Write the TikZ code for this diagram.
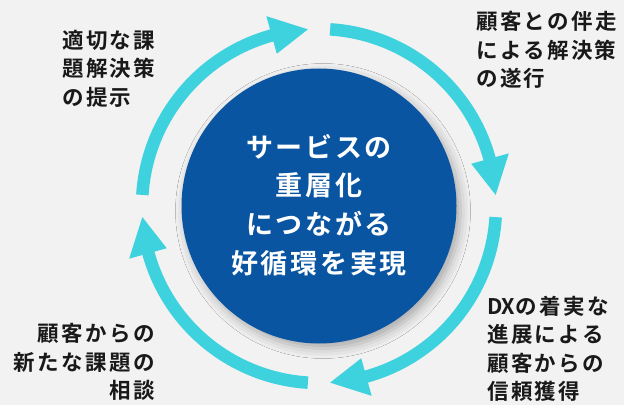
\documentclass[tikz,border=0pt]{standalone}
\usepackage{fontspec}
\setmainfont{Noto Sans CJK JP}[BoldFont={* Bold}]
\newfontfamily\jpbold{Noto Sans CJK JP Bold}
\usetikzlibrary{shadows.blur}
\definecolor{bgc}{HTML}{F2F2F2}
\definecolor{cyanarc}{HTML}{3DD2DD}
\definecolor{bluec}{HTML}{0A55A2}
\tikzset{
  arcline/.style={draw=cyanarc, line width=12.5pt, line cap=butt},
  arrowhd/.style={fill=cyanarc},
  centertext/.style={text=white, align=center, inner sep=0pt,
    font=\jpbold\fontsize{27}{38.7}\selectfont\addfontfeatures{LetterSpace=10}},
  label/.style={text=black!90, inner sep=0pt,
    font=\jpbold\fontsize{21.5}{28.5}\selectfont\addfontfeatures{LetterSpace=11}}
}
\begin{document}
\begin{tikzpicture}[x=1pt,y=1pt]
\fill[bgc] (0,0) rectangle (624,405);
\useasboundingbox (0,0) rectangle (624,405);
\coordinate (C) at (319,199);
\begin{scope}[shift={(C)}]
  \foreach \k in {0,1,2,3} {
    \pgfmathsetmacro{\sa}{176.4-90*\k}
    \pgfmathsetmacro{\ea}{104-90*\k}
    \pgfmathsetmacro{\ta}{93.6-90*\k}
    \pgfmathsetmacro{\ba}{105.5-90*\k}
    \draw[arcline] (\sa:177) arc[start angle=\sa, end angle=\ea, radius=177];
    \fill[arrowhd] (\ba:197) -- (\ta:177) -- (\ba:158) -- cycle;
  }
\end{scope}
\node[circle, fill=bluec, minimum size=275pt, inner sep=0pt,
  blur shadow={shadow xshift=4pt, shadow yshift=-5pt, shadow blur radius=10pt, shadow opacity=30}] (hub) at (C) {};
\node[centertext] (ct) at (319,200) {サービスの\\重層化\\につながる\\好循環を実現};
\node[label, align=left, anchor=west] (tl) at (62,336.5) {適切な課\\題解決策\\の提示};
\node[label, align=left, anchor=west] (tr) at (476,355) {顧客との伴走\\による解決策\\の遂行};
\node[label, align=right, anchor=east] (bl) at (155,43) {顧客からの\\新たな課題の\\相談};
\node[label, align=left, anchor=west] (br) at (487,56) {{\addfontfeatures{LetterSpace=0}DX}の着実な\\進展による\\顧客からの\\信頼獲得};
\end{tikzpicture}
\end{document}
